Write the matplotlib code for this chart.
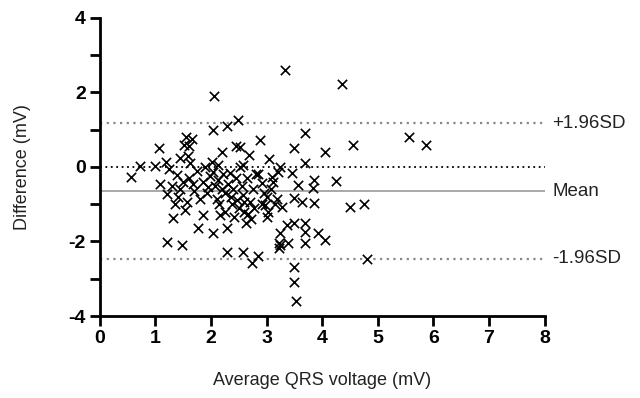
import numpy as np
import matplotlib.pyplot as plt

plt.rcParams['font.family'] = ['Liberation Sans', 'DejaVu Sans']
plt.rcParams['axes.unicode_minus'] = False

# Bland-Altman data: average QRS voltage vs difference (mV)
avg_mv = [
    0.56, 0.72, 1.00, 1.06, 1.08, 1.19, 1.20, 1.31, 1.20, 1.47, 1.38, 1.44, 1.30, 1.25, 1.40, 1.45, 1.35,
    1.53, 1.56, 1.55, 1.60, 1.62, 1.65, 1.58, 1.60, 1.68, 1.70, 1.75, 1.80, 1.85, 1.85, 1.76, 1.90, 1.95,
    1.98, 1.92, 1.50, 1.52,
    2.03, 2.05, 2.01, 2.03, 2.03, 2.08, 2.10, 2.12, 2.15, 2.19, 2.20, 2.22, 2.25, 2.28, 2.28, 2.28, 2.30,
    2.34, 2.35, 2.38, 2.40, 2.42, 2.45, 2.48, 2.47, 2.45, 2.50, 2.16, 2.12, 2.25,
    2.52, 2.52, 2.55, 2.57, 2.58, 2.60, 2.62, 2.65, 2.68, 2.70, 2.72, 2.73, 2.75, 2.78, 2.80, 2.84, 2.84,
    2.88, 2.91, 2.92, 2.95, 2.97, 3.00, 3.00, 2.60, 2.66, 2.58,
    3.02, 3.04, 3.10, 3.08, 3.15, 3.20, 3.22, 3.22, 3.24, 3.24, 3.24, 3.27, 3.33, 3.36, 3.38, 3.45, 3.49,
    3.50, 3.50, 3.49, 3.49, 3.52, 3.12, 3.18,
    3.56, 3.63, 3.69, 3.69, 3.69, 3.69, 3.69, 3.83, 3.85, 3.85, 3.92, 4.05, 4.05, 4.24, 4.35, 4.55, 4.50,
    4.75, 4.80, 5.56, 5.86,
]
diff_mv = [
    -0.27, 0.03, 0.03, 0.50, -0.46, 0.13, -0.72, -1.37, -2.02, -2.10, -0.21, 0.23, -0.50, -0.05, -0.80, -0.60, -1.00,
    -1.15, -0.95, 0.80, 0.55, 0.10, 0.75, 0.30, -0.30, -0.45, -0.65, -0.10, -0.85, -0.40, -1.29, -1.64, 0.00, -0.55,
    -0.25, -0.70, -0.40, 0.60,
    1.00, 1.90, 0.13, -0.13, -1.77, -0.50, -0.85, -0.35, -1.00, 0.40, -0.60, -0.20, -1.20, 1.10, -1.64, -2.28, -0.45,
    -0.16, -0.80, -1.00, -0.60, -1.35, -0.30, 1.26, -0.90, 0.55, -1.10, -1.30, 0.05, -0.70,
    0.54, 0.00, -0.50, -2.28, -0.75, -1.20, -1.50, -0.30, 0.32, -0.95, -1.40, -2.58, -0.60, -1.10, -0.20, -2.39, -0.20,
    0.72, -0.43, -1.00, -0.70, -1.02, -0.80, -1.34, -0.95, -1.25, 0.05,
    -1.20, 0.21, -0.26, -0.60, -1.00, -0.13, -2.04, -2.17, 0.00, -1.77, -2.09, -1.07, 2.60, -1.56, -2.04, -0.16, 0.51,
    -0.83, -1.50, -2.68, -3.09, -3.60, -0.40, -0.85,
    -0.48, -0.93, 0.91, 0.11, -1.50, -1.74, -2.04, -0.56, -0.35, -0.97, -1.77, 0.40, -1.97, -0.37, 2.23, 0.59, -1.07,
    -0.99, -2.47, 0.80, 0.59,
]

mean_diff = -0.65
upper_loa = 1.17
lower_loa = -2.47

fig = plt.figure(figsize=(6.4, 3.98), dpi=100)
ax = fig.add_axes([0.156, 0.206, 0.695, 0.749])

ax.scatter(avg_mv, diff_mv, marker='x', s=45, color='black', linewidths=1.2, zorder=3)

ax.axhline(upper_loa, color='#888888', linestyle=(0, (1, 2)), linewidth=1.6, zorder=1)
ax.axhline(0, color='black', linestyle=(0, (1, 2)), linewidth=1.3, zorder=1)
ax.axhline(mean_diff, color='#999999', linestyle='-', linewidth=1.2, zorder=1)
ax.axhline(lower_loa, color='#888888', linestyle=(0, (1, 2)), linewidth=1.6, zorder=1)

for yv, txt in [(upper_loa, '+1.96SD'), (mean_diff, 'Mean'), (lower_loa, '-1.96SD')]:
    ax.text(8.14, yv, txt, fontsize=13.5, va='center', ha='left', color='#222222', clip_on=False)

ax.set_xlim(0, 8)
ax.set_ylim(-4, 4)
ax.set_xticks(range(0, 9))
ax.set_yticks([-4, -2, 0, 2, 4])
ax.set_yticks([-3, -1, 1, 3], minor=True)

for side in ['top', 'right']:
    ax.spines[side].set_visible(False)
for side in ['left', 'bottom']:
    ax.spines[side].set_linewidth(2.0)

ax.tick_params(axis='both', which='major', direction='out', length=7, width=2.0, labelsize=14, pad=3)
ax.tick_params(axis='y', which='minor', direction='out', length=7, width=2.0)
for lab in ax.get_xticklabels() + ax.get_yticklabels():
    lab.set_fontweight('bold')

ax.set_xlabel('Average QRS voltage (mV)', fontsize=13, labelpad=18, color='#222222')
ax.set_ylabel('Difference (mV)', fontsize=13, labelpad=27, color='#222222')

plt.savefig('out.png', dpi=100)
